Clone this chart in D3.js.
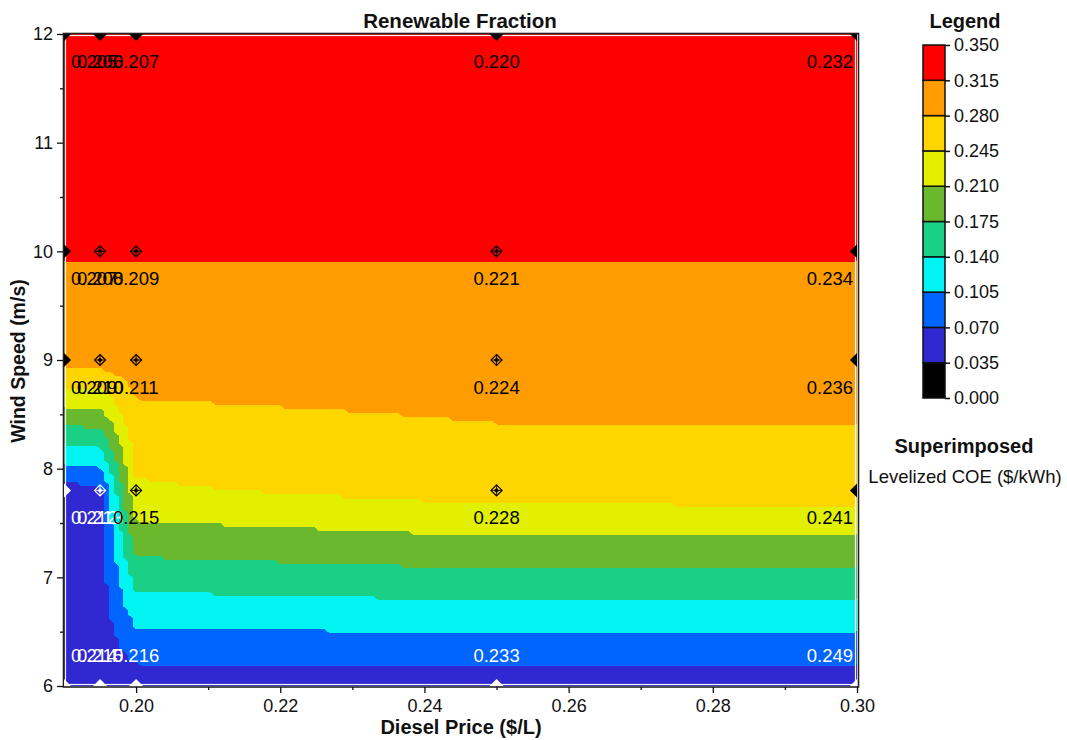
<!DOCTYPE html>
<html>
<head>
<meta charset="utf-8">
<script src="https://cdn.jsdelivr.net/npm/d3@7"></script>
<style>
body{margin:0;background:#fff;}
svg text{font-family:"Liberation Sans", Arial, sans-serif;fill:#111;}
</style>
</head>
<body>
<svg id="chart" width="1067" height="740"></svg>
<script>
// sensitivity grid (HOMER style): diesel price x wind speed
const diesel_prices = [0.19, 0.195, 0.20, 0.25, 0.30];
const wind_speeds = [6, 7.8, 9, 10, 12];

// renewable fraction, one row per wind speed
const rf_6   = [0.044, 0.045, 0.048, 0.048, 0.048];
const rf_7_8 = [0.056, 0.062, 0.240, 0.260, 0.261];
const rf_9   = [0.298, 0.298, 0.297, 0.299, 0.299];
const rf_10  = [0.317, 0.317, 0.317, 0.317, 0.317];
const rf_12  = [0.330, 0.330, 0.330, 0.330, 0.330];
const renewable_fraction = [rf_6, rf_7_8, rf_9, rf_10, rf_12];

// superimposed levelized COE ($/kWh)
const coe_6   = [0.214, 0.215, 0.216, 0.233, 0.249];
const coe_7_8 = [0.212, 0.213, 0.215, 0.228, 0.241];
const coe_9   = [0.209, 0.210, 0.211, 0.224, 0.236];
const coe_10  = [0.207, 0.208, 0.209, 0.221, 0.234];
const coe_12  = [0.205, 0.206, 0.207, 0.220, 0.232];
const levelized_coe = [coe_6, coe_7_8, coe_9, coe_10, coe_12];

const legend_breaks = [0, 0.035, 0.07, 0.105, 0.14, 0.175, 0.21, 0.245, 0.28, 0.315, 0.35];
const band_colors = ["#000000", "#3028d0", "#0064ff", "#00f4f2", "#19d084", "#6ab82e", "#e2f000", "#ffd500", "#ff9c00", "#ff0000"];

const x_ticks = [0.20, 0.22, 0.24, 0.26, 0.28, 0.30];
const x_minor = [0.21, 0.23, 0.25, 0.27, 0.29];
const y_ticks = [6, 7, 8, 9, 10, 11, 12];
const y_minor = [6.5, 7.5, 8.5, 9.5, 10.5, 11.5];

const svg = d3.select("#chart");
const plot = {left:64, right:857, top:34, bottom:686};

const x_scale = d3.scaleLinear().domain([0.19, 0.30]).range([plot.left, plot.right]);
const y_scale = d3.scaleLinear().domain([6, 12]).range([plot.bottom, plot.top]);

// bilinear lookup into the sensitivity grid
function locate(arr, v){
  let i = 0;
  while(i < arr.length - 2 && v > arr[i+1]) i++;
  const t = Math.max(0, Math.min(1, (v - arr[i]) / (arr[i+1] - arr[i])));
  return [i, t];
}
function rf_at(p, w){
  const [i, tx] = locate(diesel_prices, p);
  const [j, ty] = locate(wind_speeds, w);
  const g = renewable_fraction;
  const a = g[j][i]*(1-tx) + g[j][i+1]*tx;
  const b = g[j+1][i]*(1-tx) + g[j+1][i+1]*tx;
  return a*(1-ty) + b*ty;
}

// contour field
const nx = 160, ny = 160;
const cw = (plot.right - plot.left) / nx;
const ch = (plot.bottom - plot.top) / ny;
const values = new Array(nx*ny);
for(let j=0;j<ny;j++){
  for(let i=0;i<nx;i++){
    const p = x_scale.invert(plot.left + (i+0.5)*cw);
    const w = y_scale.invert(plot.top + (j+0.5)*ch);
    values[j*nx+i] = rf_at(p, w);
  }
}
const contours = d3.contours().size([nx, ny]).smooth(false)
  .thresholds(legend_breaks.slice(0, -1))(values);

const grid_proj = d3.geoTransform({point: function(px, py){
  this.stream.point(plot.left + px*cw, plot.top + py*ch);
}});
const grid_path = d3.geoPath(grid_proj);

svg.append("defs").append("clipPath").attr("id", "plot-clip")
  .append("rect")
  .attr("x", plot.left).attr("y", plot.top)
  .attr("width", plot.right - plot.left).attr("height", plot.bottom - plot.top);

const field = svg.append("g").attr("clip-path", "url(#plot-clip)");
field.selectAll("path.band")
  .data(contours)
  .enter()
  .append("path")
  .attr("class", "band")
  .attr("d", grid_path)
  .style("fill", (d, i) => band_colors[i])
  .style("stroke", "none")
  .attr("shape-rendering", "crispEdges");

// frame
svg.append("rect")
  .attr("x", plot.left + 1.5).attr("y", plot.top + 1.5)
  .attr("width", plot.right - plot.left - 3).attr("height", plot.bottom - plot.top - 3)
  .style("fill", "none").style("stroke", "#f4f4f4").style("stroke-width", 1.2);
svg.append("rect")
  .attr("x", plot.left - 0.5).attr("y", plot.top - 0.5)
  .attr("width", plot.right - plot.left + 2).attr("height", plot.bottom - plot.top + 1.5)
  .style("fill", "none").style("stroke", "#222").style("stroke-width", 1.6);

// axes
svg.append("g")
  .attr("transform", `translate(0, ${plot.bottom + 1})`)
  .call(d3.axisBottom(x_scale).tickValues(x_ticks).tickFormat(d3.format(".2f")).tickSize(6).tickPadding(6));
svg.append("g")
  .attr("transform", `translate(0, ${plot.bottom + 1})`)
  .call(d3.axisBottom(x_scale).tickValues(x_minor).tickFormat("").tickSize(3));

svg.append("g")
  .attr("transform", `translate(${plot.left - 1}, 0)`)
  .call(d3.axisLeft(y_scale).tickValues(y_ticks).tickFormat(d3.format("d")).tickSize(6).tickPadding(4));
svg.append("g")
  .attr("transform", `translate(${plot.left - 1}, 0)`)
  .call(d3.axisLeft(y_scale).tickValues(y_minor).tickFormat("").tickSize(3));

svg.selectAll(".domain").remove();
svg.selectAll(".tick line").style("stroke", "#111").style("stroke-width", 1.3);
svg.selectAll(".tick text").style("font-size", "18px").style("fill", "#111");

svg.append("text")
  .attr("text-anchor", "middle")
  .attr("x", 460).attr("y", 28)
  .style("font-size", "20.5px").style("font-weight", "bold")
  .text("Renewable Fraction");

svg.append("text")
  .attr("text-anchor", "middle")
  .attr("x", 461).attr("y", 734)
  .style("font-size", "20px").style("font-weight", "bold")
  .text("Diesel Price ($/L)");

svg.append("text")
  .attr("text-anchor", "middle")
  .attr("transform", `translate(25, 361)rotate(-90)`)
  .style("font-size", "19.5px").style("font-weight", "bold")
  .text("Wind Speed (m/s)");

// superimposed markers + labels
const points = [];
wind_speeds.forEach((w, j) => {
  diesel_prices.forEach((p, i) => {
    points.push({price:p, wind:w, coe:levelized_coe[j][i], rf:renewable_fraction[j][i],
      edge: (i === 0 || i === diesel_prices.length-1 || j === 0 || j === wind_speeds.length-1)});
  });
});
const mark_color = (d) => d.rf < 0.105 ? "#ffffff" : "#000000";

const marker_layer = svg.append("g").attr("clip-path", "url(#plot-clip)");
const diamond = (s) => `M0,${-s}L${s},0L0,${s}L${-s},0Z`;

const marks = marker_layer.selectAll("g.mark")
  .data(points)
  .enter()
  .append("g")
  .attr("class", "mark")
  .attr("transform", (d) => `translate(${x_scale(d.price)}, ${y_scale(d.wind)})`);

marks.filter((d) => d.edge)
  .append("path")
  .attr("d", diamond(7))
  .style("fill", mark_color);

const inner = marks.filter((d) => !d.edge);
inner.append("path")
  .attr("d", diamond(5.5))
  .style("fill", "none").style("stroke", mark_color).style("stroke-width", 1.2);
inner.append("path")
  .attr("d", diamond(2.6))
  .style("fill", mark_color);
inner.append("path")
  .attr("d", "M-5.5,0H5.5M0,-5.5V5.5")
  .style("stroke", mark_color).style("stroke-width", 0.8);

const label_layer = svg.append("g");
label_layer.selectAll("text.coe")
  .data(points)
  .enter()
  .append("text")
  .attr("class", "coe")
  .style("font-size", "18.5px")
  .style("fill", mark_color)
  .text((d) => d3.format(".3f")(d.coe))
  .each(function(d){
    const t = d3.select(this);
    const wdt = this.getComputedTextLength();
    let cx = x_scale(d.price) - wdt/2;
    cx = Math.max(plot.left + 7, Math.min(plot.right - 4 - wdt, cx));
    const my = y_scale(d.wind);
    const by = (my + 34 > plot.bottom - 4) ? my - 24 : my + 34;
    t.attr("x", cx).attr("y", by);
  });

// legend
const legend_y = d3.scaleLinear().domain([0, 0.35]).range([398, 45]);
const legend = svg.append("g");
legend.append("text")
  .attr("text-anchor", "middle")
  .attr("x", 965).attr("y", 28)
  .style("font-size", "20px").style("font-weight", "bold")
  .text("Legend");

legend.selectAll("rect.swatch")
  .data(band_colors)
  .enter()
  .append("rect")
  .attr("class", "swatch")
  .attr("x", 923)
  .attr("y", (d, i) => legend_y(legend_breaks[i+1]))
  .attr("width", 22)
  .attr("height", (d, i) => legend_y(legend_breaks[i]) - legend_y(legend_breaks[i+1]))
  .style("fill", (d) => d)
  .style("stroke", "#111")
  .style("stroke-width", 1.5);

legend.append("g")
  .attr("transform", "translate(945, 0)")
  .call(d3.axisRight(legend_y).tickValues(legend_breaks).tickFormat(d3.format(".3f")).tickSize(5).tickPadding(4))
  .call((g) => g.select(".domain").remove())
  .call((g) => g.selectAll("line").style("stroke", "#111").style("stroke-width", 1.5))
  .call((g) => g.selectAll("text").style("font-size", "18px").style("fill", "#111"));

legend.append("text")
  .attr("text-anchor", "middle")
  .attr("x", 964).attr("y", 453)
  .style("font-size", "20px").style("font-weight", "bold")
  .text("Superimposed");
legend.append("text")
  .attr("text-anchor", "middle")
  .attr("x", 965).attr("y", 483)
  .style("font-size", "18.5px")
  .text("Levelized COE ($/kWh)");
</script>
</body>
</html>
